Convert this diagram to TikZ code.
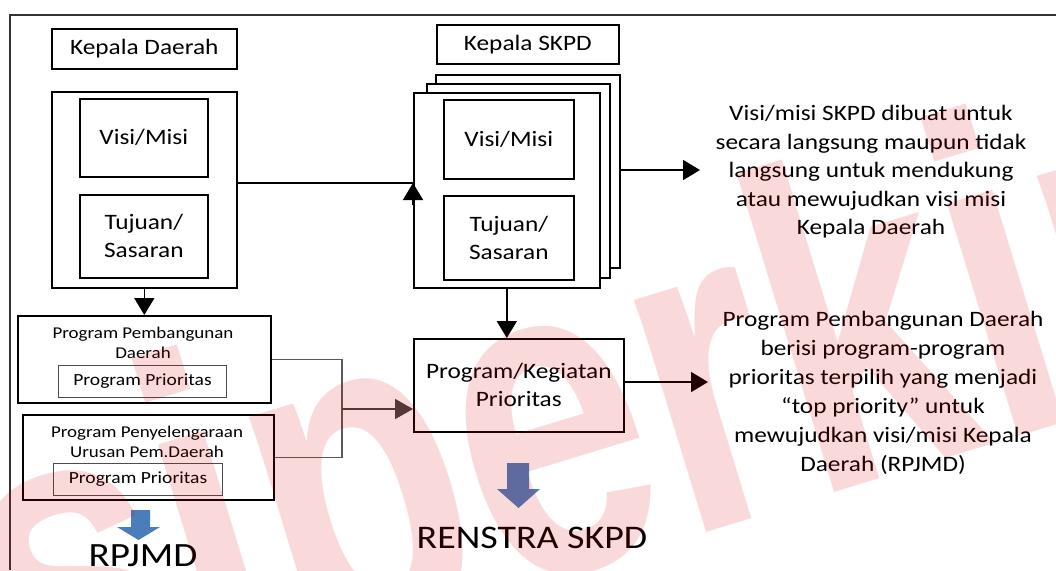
\documentclass[tikz,border=0pt]{standalone}
\usepackage{fontspec}
\setmainfont{Carlito}[FakeStretch=1.15]
\newfontfamily\wmf{Liberation Sans}[FakeStretch=0.75]
\usetikzlibrary{arrows.meta}
\newcommand\fs[2]{\fontsize{#1}{#2}\selectfont}
\definecolor{blueA}{RGB}{74,126,187}
\begin{document}
\begin{tikzpicture}[x=1pt,y=-1pt,
  box/.style={draw=black, line width=1.6pt, fill=white, inner sep=0pt, anchor=north west, align=center, font=\fs{22}{28}},
  thickbox/.style={draw=black, line width=2.2pt, fill=white, inner sep=0pt, anchor=north west},
  thinbox/.style={draw=black!70, line width=1pt, fill=white, inner sep=0pt, anchor=north west, font=\fs{17}{20}},
  txt/.style={align=center, inner sep=0pt},
  arr/.style={draw=black, line width=1.6pt, -{Triangle[width=20pt,length=17pt]}},
  garr/.style={draw=black!75, line width=1.6pt, -{Triangle[width=20pt,length=18pt]}},
  bline/.style={draw=black!65, line width=1.3pt},
  frame/.style={draw=black!80, line width=1.8pt}]
\useasboundingbox (0,0) rectangle (1056,570);
\fill[white] (0,0) rectangle (1056,570);
% outer frame
\coordinate (f0) at (10,15);
\coordinate (f1) at (1056,15);
\coordinate (f2) at (10,570);
\draw[frame] (f1) -- (f0) -- (f2);
% left column
\node[box, minimum width=185pt, minimum height=40pt] (kd) at (51,28) {Kepala Daerah};
\node[box, minimum width=185pt, minimum height=196pt] (lbox) at (51,91) {};
\node[box, minimum width=128pt, minimum height=78pt] (lvisi) at (79,98) {Visi/Misi};
\node[box, minimum width=128pt, minimum height=83pt] (ltuj) at (79,194) {Tujuan/\\Sasaran};
% SKPD column
\node[box, minimum width=182pt, minimum height=39pt] (ks) at (436,24) {Kepala SKPD};
\node[box, minimum width=184pt, minimum height=193pt] (back) at (435,74) {};
\node[box, minimum width=183pt, minimum height=194pt] (mid) at (426,83) {};
\node[box, minimum width=186pt, minimum height=195pt] (front) at (413,92) {};
\node[box, minimum width=130pt, minimum height=79pt] (rvisi) at (443,99) {Visi/Misi};
\node[box, minimum width=130pt, minimum height=84pt] (rtuj) at (443,195) {Tujuan/\\Sasaran};
% program boxes
\node[thickbox, minimum width=253pt, minimum height=87pt] (ppd) at (17,315) {};
\node[txt, font=\fs{16.5}{20}] (ppdt) at (143,343) {Program Pembangunan\\Daerah};
\node[thinbox, minimum width=168pt, minimum height=32pt] (pp1) at (58,365) {Program Prioritas};
\node[thickbox, minimum width=251pt, minimum height=85pt] (ppu) at (22,414) {};
\node[txt, font=\fs{16.5}{20}] (pput) at (147,442) {Program Penyelengaraan\\Urusan Pem.Daerah};
\node[thinbox, minimum width=169pt, minimum height=32pt] (pp2) at (53,463) {Program Prioritas};
\node[box, minimum width=210pt, minimum height=93pt] (pkp) at (413,338) {Program/Kegiatan\\Prioritas};
% right texts
\node[txt, font=\fs{22}{28.5}] (t1) at (871,172) {Visi/misi SKPD dibuat untuk\\secara langsung maupun tidak\\langsung untuk mendukung\\atau mewujudkan visi misi\\Kepala Daerah};
\node[txt, font=\fs{22}{29}] (t2) at (883,393) {Program Pembangunan Daerah\\berisi program-program\\prioritas terpilih yang menjadi\\“top priority” untuk\\mewujudkan visi/misi Kepala\\Daerah (RPJMD)};
% bottom labels
\node[inner sep=0pt, anchor=base, font=\fs{34}{40}] (rpjmd) at (143,566) {RPJMD};
\node[inner sep=0pt, anchor=base, font=\fs{33}{40}] (renstra) at (532,548) {RENSTRA SKPD};
% connectors
\coordinate (j1) at (413,183);
\draw[line width=1.6pt] (lbox.east |- j1) -- (j1);
\draw[arr] ([yshift=-22pt]j1) -- (j1);
\draw[arr] (lbox.south) -- (lbox.south |- ppd.north);
\draw[arr] (front.south) -- (front.south |- pkp.north);
\coordinate (t1a) at (700,170);
\draw[arr] (back.east |- t1a) -- (t1a);
\coordinate (t2a) at (708,382);
\draw[arr] (pkp.east |- t2a) -- (t2a);
\coordinate (bx) at (342,409);
\draw[bline] (ppd.east) -| (bx) |- (ppu.east);
\draw[garr] (bx) -- (bx -| pkp.west);
% blue arrows
\fill[blueA] (131,510) -- (150,510) -- (150,527) -- (160,527) -- (138.5,540) -- (117,527) -- (131,527) -- cycle;
\fill[blueA] (507,463) -- (529,463) -- (529,489) -- (540,489) -- (518.5,508) -- (497,489) -- (507,489) -- cycle;
% watermark
\node[font=\wmf\bfseries\fs{460}{460}, text=red!85!black, text opacity=0.15, rotate=17, anchor=base west, inner sep=0pt] (wm) at (23,741) {siperkim};
\end{tikzpicture}
\end{document}
